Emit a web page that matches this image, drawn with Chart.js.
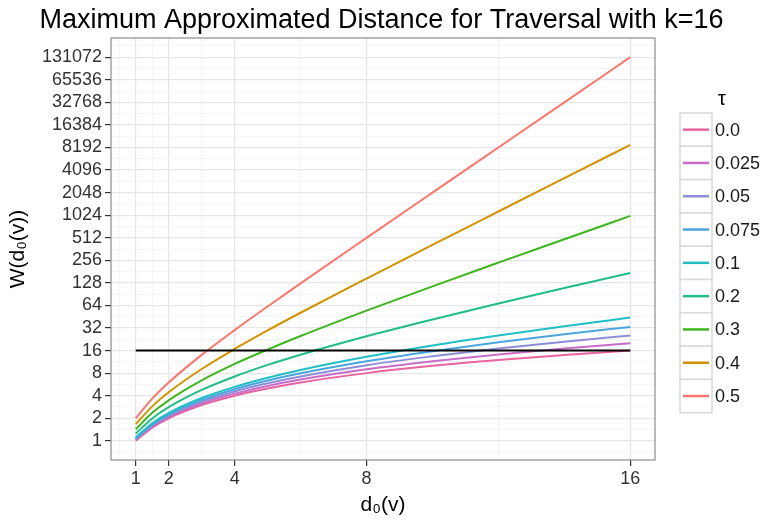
<!DOCTYPE html>
<html>
<head>
<meta charset="utf-8">
<script src="https://cdn.jsdelivr.net/npm/chart.js@4"></script>
<style>
  body { margin: 0; background: #fff; }
  #wrap { width: 765px; height: 522px; }
</style>
</head>
<body>
<div id="wrap"><canvas id="chart" width="765" height="522"></canvas></div>
<script>
// values (y axis is log2)
const d0 = [1, 1.5, 2, 3, 4, 5, 6, 8, 10, 12, 14, 16];
const tauLabels = ['0.0', '0.025', '0.05', '0.075', '0.1', '0.2', '0.3', '0.4', '0.5'];
const w_tau000 = [1, 1.5, 2, 3, 4, 5, 6, 8, 10, 12, 14, 16];
const w_tau025 = [1.03, 1.55, 2.08, 3.16, 4.26, 5.40, 6.56, 8.98, 11.5, 14.2, 17.0, 20.0];
const w_tau050 = [1.05, 1.60, 2.16, 3.33, 4.56, 5.85, 7.21, 10.2, 13.4, 17.0, 21.0, 25.4];
const w_tau075 = [1.08, 1.66, 2.25, 3.51, 4.88, 6.36, 7.95, 11.5, 15.7, 20.7, 26.4, 33.1];
const w_tau100 = [1.11, 1.71, 2.35, 3.72, 5.24, 6.94, 8.82, 13.2, 18.7, 25.4, 33.7, 44.0];
const w_tau200 = [1.25, 1.99, 2.81, 4.77, 7.21, 10.3, 14.1, 24.8, 41.6, 67.8, 109, 173];
const w_tau300 = [1.43, 2.36, 3.47, 6.39, 10.6, 16.5, 25.0, 54.5, 115, 238, 488, 1000];
const w_tau400 = [1.67, 2.88, 4.44, 9.07, 16.8, 29.7, 51.1, 146, 411, 1146, 3188, 8860];
const w_tau500 = [2, 3.66, 6, 14, 30, 62, 126, 510, 2046, 8190, 32770, 131070];
const threshold = 16;   // k
const xTicks = [1, 2, 4, 8, 16];
const xMinor = [0.5, 1.5, 3, 6, 12];
const yTicks = [1, 2, 4, 8, 16, 32, 64, 128, 256, 512, 1024, 2048, 4096, 8192,
                16384, 32768, 65536, 131072];

const series = [w_tau000, w_tau025, w_tau050, w_tau075, w_tau100,
                w_tau200, w_tau300, w_tau400, w_tau500];
const colors = ['#E8649F', '#C86CC8', '#8E8ED8', '#4AA6DE', '#1FBFC6',
                '#1FBE84', '#3DB61E', '#D39300', '#F8766D'];

const FONT = '"Liberation Sans", Arial, Helvetica, sans-serif';
const TITLE = 'Maximum Approximated Distance for Traversal with k=16';

const datasets = series.map((vals, i) => ({
  label: tauLabels[i],
  data: vals.map((v, j) => ({ x: d0[j], y: v })),
  borderColor: colors[i],
  borderWidth: 2,
  pointRadius: 0,
  fill: false,
  cubicInterpolationMode: 'monotone',
  order: 20 - i
}));
datasets.push({
  label: 'k',
  data: [{ x: d0[0], y: threshold }, { x: d0[d0.length - 1], y: threshold }],
  borderColor: '#000',
  borderWidth: 2,
  pointRadius: 0,
  fill: false,
  order: 0,
  noLegend: true
});

const isPow2 = v => Math.abs(Math.log2(v) - Math.round(Math.log2(v))) < 1e-6;

// ggplot-like title, panel border and legend with keyed boxes
const decor = {
  id: 'decor',
  afterDraw(chart) {
    const ctx = chart.ctx;
    const a = chart.chartArea;
    ctx.save();
    ctx.strokeStyle = '#8c8c8c';
    ctx.lineWidth = 1.2;
    ctx.strokeRect(a.left, a.top, a.right - a.left, a.bottom - a.top);

    // title, centred over the whole figure
    ctx.fillStyle = '#000';
    ctx.font = '27px ' + FONT;
    ctx.textAlign = 'center';
    ctx.textBaseline = 'alphabetic';
    ctx.fillText(TITLE, chart.width / 2 - 1, 28);

    // legend
    const lx = 680, ly = 113, kw = 32, kh = 33.3;
    ctx.font = '20px ' + FONT;
    ctx.textBaseline = 'middle';
    ctx.fillText('τ', lx + 42, ly - 14);
    let row = 0;
    chart.data.datasets.forEach(ds => {
      if (ds.noLegend) return;
      const y = ly + row * kh;
      ctx.fillStyle = '#fff';
      ctx.fillRect(lx, y, kw, kh);
      ctx.strokeStyle = '#d9d9d9';
      ctx.lineWidth = 1.5;
      ctx.strokeRect(lx, y, kw, kh);
      ctx.strokeStyle = ds.borderColor;
      ctx.lineWidth = 2.5;
      ctx.beginPath();
      ctx.moveTo(lx + 3, y + kh / 2);
      ctx.lineTo(lx + kw - 3, y + kh / 2);
      ctx.stroke();
      ctx.fillStyle = '#1a1a1a';
      ctx.font = '18px ' + FONT;
      ctx.textAlign = 'left';
      ctx.fillText(ds.label, lx + kw + 3, y + kh / 2 + 1);
      row++;
    });
    ctx.restore();
  }
};

new Chart(document.getElementById('chart'), {
  type: 'line',
  data: { datasets },
  plugins: [decor],
  options: {
    responsive: false,
    animation: false,
    layout: { padding: { left: 0, right: 110, top: 38, bottom: 0 } },
    plugins: {
      legend: { display: false },
      tooltip: { enabled: false },
      title: { display: false }
    },
    scales: {
      x: {
        type: 'linear',
        min: 0.25,
        max: 16.75,
        afterBuildTicks: s => {
          s.ticks = xMinor.concat(xTicks).sort((a, b) => a - b).map(v => ({ value: v }));
        },
        afterFit: s => { s.height = 62; },
        ticks: {
          autoSkip: false,
          maxRotation: 0,
          padding: 2,
          color: '#333',
          font: { family: FONT, size: 18 },
          callback: v => xTicks.includes(v) ? String(v) : ''
        },
        grid: {
          color: c => xTicks.includes(c.tick.value) ? '#e6e6e6' : '#f3f3f3',
          lineWidth: c => xTicks.includes(c.tick.value) ? 1.2 : 0.8,
          tickColor: c => xTicks.includes(c.tick.value) ? '#333' : 'rgba(0,0,0,0)',
          tickLength: 6,
          tickWidth: 1.2
        },
        border: { display: false },
        title: {
          display: true,
          text: 'd₀(v)',
          color: '#000',
          font: { family: FONT, size: 21 },
          padding: { top: 0, bottom: 4 }
        }
      },
      y: {
        type: 'logarithmic',
        min: Math.pow(2, -0.85),
        max: Math.pow(2, 17.85),
        afterBuildTicks: s => {
          const t = [];
          yTicks.forEach(v => { t.push({ value: v / Math.SQRT2 }); t.push({ value: v }); });
          t.push({ value: yTicks[yTicks.length - 1] * Math.SQRT2 });
          s.ticks = t;
        },
        afterFit: s => { s.width = 111; },
        ticks: {
          autoSkip: false,
          padding: 3,
          color: '#333',
          font: { family: FONT, size: 18 },
          callback: v => isPow2(v) ? String(Math.round(v)) : ''
        },
        grid: {
          color: c => isPow2(c.tick.value) ? '#e6e6e6' : '#f3f3f3',
          lineWidth: c => isPow2(c.tick.value) ? 1.2 : 0.8,
          tickColor: c => isPow2(c.tick.value) ? '#333' : 'rgba(0,0,0,0)',
          tickLength: 6,
          tickWidth: 1.2
        },
        border: { display: false },
        title: {
          display: true,
          text: 'W(d₀(v))',
          color: '#000',
          font: { family: FONT, size: 21 },
          padding: { top: 6, bottom: 0 }
        }
      }
    }
  }
});
</script>
</body>
</html>
